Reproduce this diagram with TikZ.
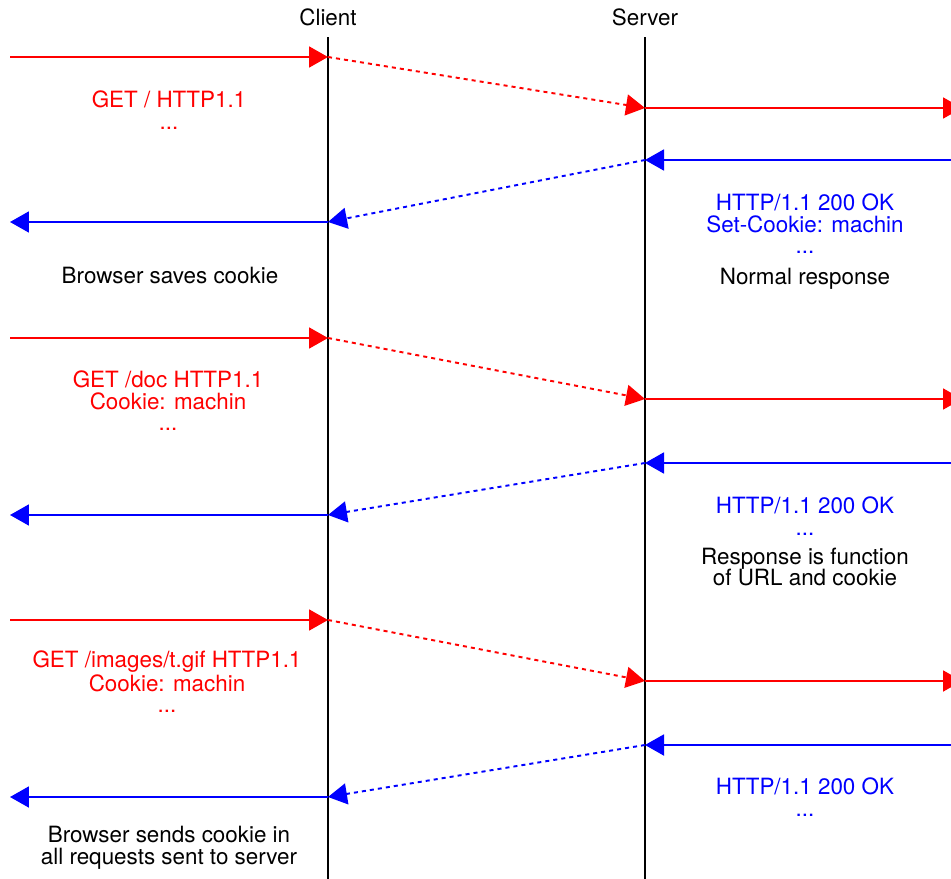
\documentclass[tikz,border=0pt]{standalone}
\usepackage{fontspec}
\setmainfont{TeX Gyre Heros}
\usetikzlibrary{arrows.meta}
\definecolor{req}{RGB}{255, 0, 0}
\definecolor{resp}{RGB}{0, 0, 255}

\begin{document}
\begin{tikzpicture}[x=0.02cm, y=-0.02cm, >={Triangle[length=0.38cm, width=0.42cm]},
    font=\fontsize{12.75}{12.3}\selectfont,
    life/.style={line width=1.1pt},
    hop/.style={->, line width=1.1pt},
    relay/.style={->, line width=1.1pt, dash pattern=on 2.3pt off 2.3pt},
    txt/.style={align=center, inner sep=0pt}]
  \useasboundingbox (0,0) rectangle (951,879);
  \clip (0,0) rectangle (951,879);

  % lifelines
  \node[txt] (client) at (328,17) {Client};
  \node[txt] (server) at (645,17) {Server};
  \coordinate (ctop) at (328,37);
  \coordinate (cbot) at (328,879);
  \coordinate (stop) at (645,37);
  \coordinate (sbot) at (645,879);
  \draw[life] (ctop) -- (cbot);
  \draw[life] (stop) -- (sbot);

  % first request
  \coordinate (r1a) at (10,57);
  \coordinate (r1b) at (328,57);
  \coordinate (r1c) at (645,108);
  \coordinate (r1d) at (962,108);
  \draw[hop, req] (r1a) -- (r1b);
  \draw[relay, req] (r1b) -- (r1c);
  \draw[hop, req] (r1c) -- (r1d);
  \node[txt, req] (get1) at (169,110) {GET / HTTP1.1\\...};

  % first response
  \coordinate (a1a) at (951,160);
  \coordinate (a1b) at (645,160);
  \coordinate (a1c) at (328,222);
  \coordinate (a1d) at (10,222);
  \draw[hop, resp] (a1a) -- (a1b);
  \draw[relay, resp] (a1b) -- (a1c);
  \draw[hop, resp] (a1c) -- (a1d);
  \node[txt, resp] (ok1) at (805,224) {HTTP/1.1 200 OK\\Set-Cookie: machin\\...};
  \node[txt] (saves) at (170,276) {Browser saves cookie};
  \node[txt] (normal) at (805,279) {Normal response};

  % second request
  \coordinate (r2a) at (10,338);
  \coordinate (r2b) at (328,338);
  \coordinate (r2c) at (645,399);
  \coordinate (r2d) at (962,399);
  \draw[hop, req] (r2a) -- (r2b);
  \draw[relay, req] (r2b) -- (r2c);
  \draw[hop, req] (r2c) -- (r2d);
  \node[txt, req] (get2) at (168,401) {GET /doc HTTP1.1\\Cookie: machin\\...};

  % second response
  \coordinate (a2a) at (951,463);
  \coordinate (a2b) at (645,463);
  \coordinate (a2c) at (328,515);
  \coordinate (a2d) at (10,515);
  \draw[hop, resp] (a2a) -- (a2b);
  \draw[relay, resp] (a2b) -- (a2c);
  \draw[hop, resp] (a2c) -- (a2d);
  \node[txt, resp] (ok2) at (805,516) {HTTP/1.1 200 OK\\...};
  \node[txt] (func) at (805,567) {Response is function\\of URL and cookie};

  % third request
  \coordinate (r3a) at (10,620);
  \coordinate (r3b) at (328,620);
  \coordinate (r3c) at (645,681);
  \coordinate (r3d) at (962,681);
  \draw[hop, req] (r3a) -- (r3b);
  \draw[relay, req] (r3b) -- (r3c);
  \draw[hop, req] (r3c) -- (r3d);
  \node[txt, req] (get3) at (167,682) {GET /images/t.gif HTTP1.1\\Cookie: machin\\...};

  % third response
  \coordinate (a3a) at (951,745);
  \coordinate (a3b) at (645,745);
  \coordinate (a3c) at (328,797);
  \coordinate (a3d) at (10,797);
  \draw[hop, resp] (a3a) -- (a3b);
  \draw[relay, resp] (a3b) -- (a3c);
  \draw[hop, resp] (a3c) -- (a3d);
  \node[txt, resp] (ok3) at (805,797) {HTTP/1.1 200 OK\\...};
  \node[txt] (sends) at (169,848) {Browser sends cookie in\\all requests sent to server};
\end{tikzpicture}
\end{document}
